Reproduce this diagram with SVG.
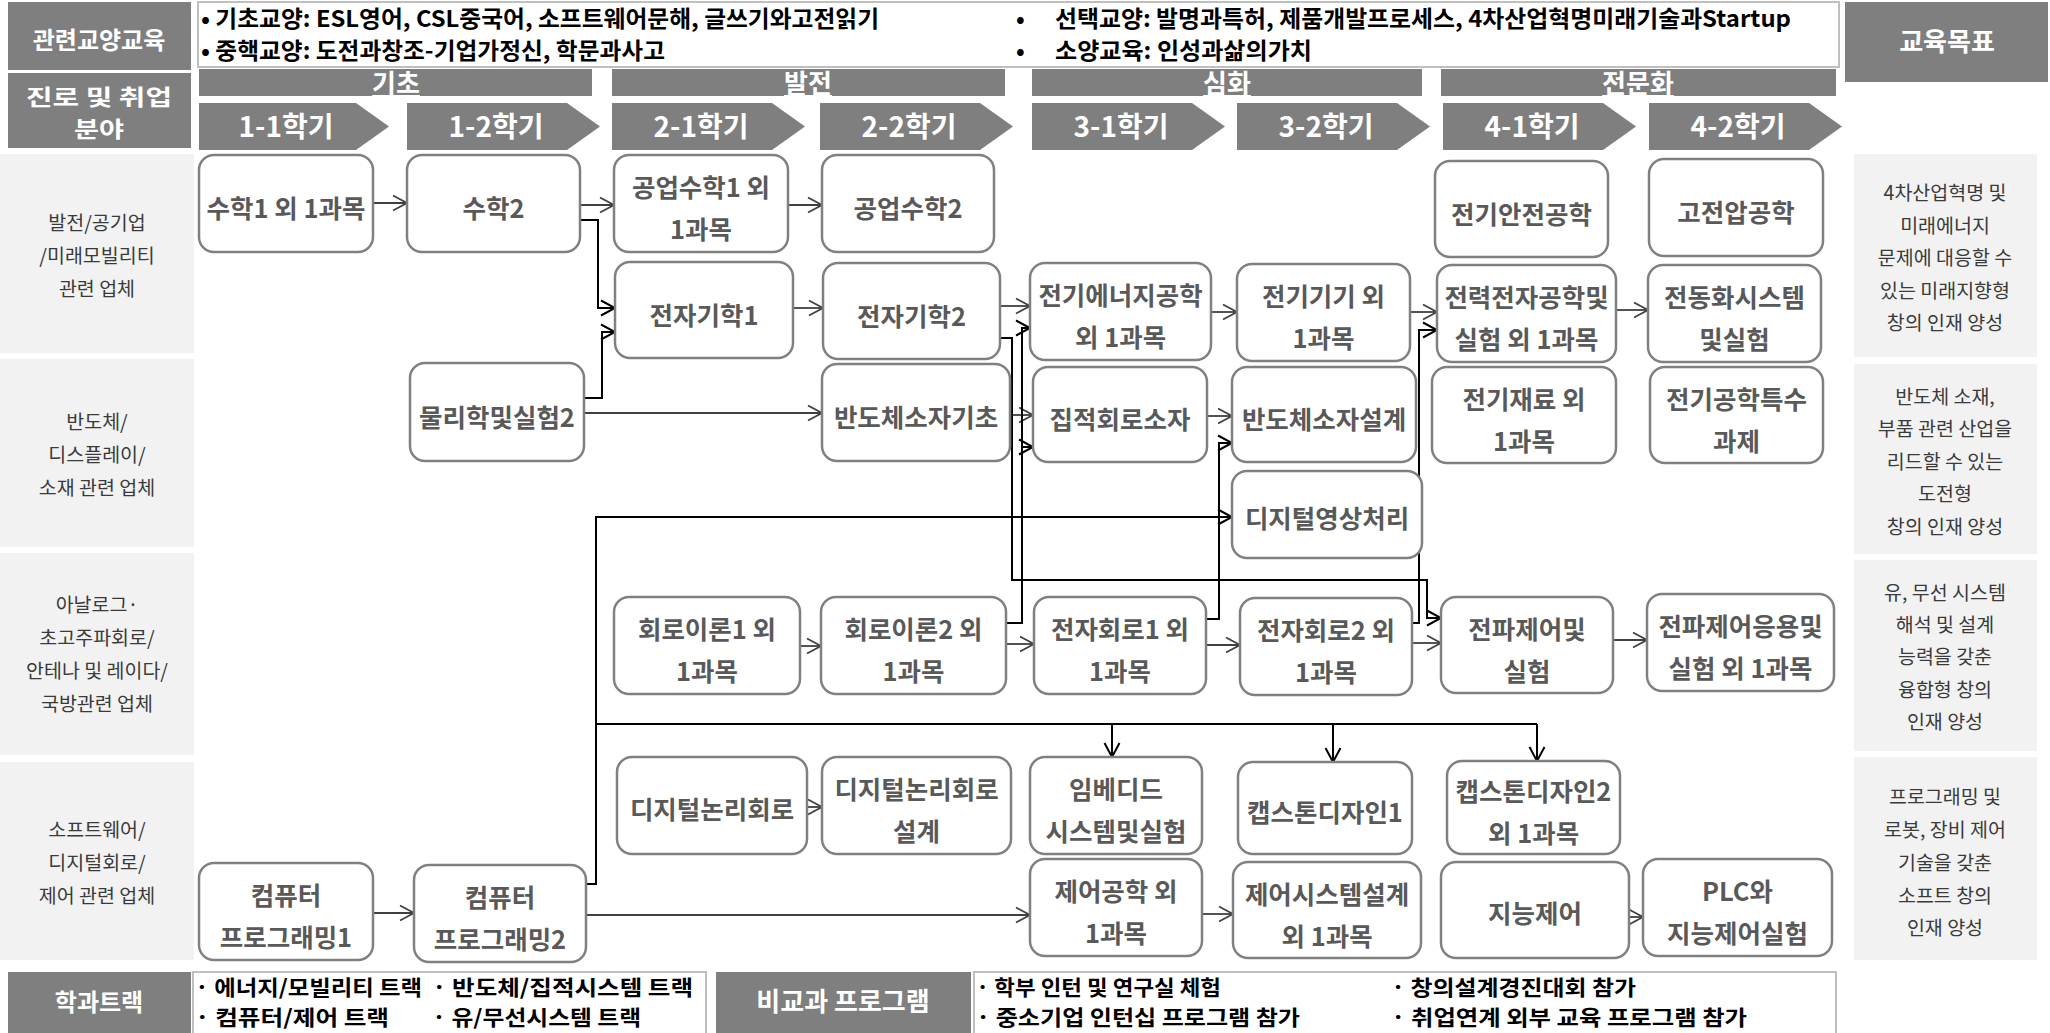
<svg xmlns="http://www.w3.org/2000/svg" width="2050" height="1033" viewBox="0 0 2050 1033">
<defs>
<style>
text{font-family:"Noto Sans CJK KR","Noto Sans",sans-serif;}
.hd{fill:#7f7f7f;}
.hw{fill:#fff;font-weight:700;text-anchor:middle;}
.lab{fill:#f2f2f2;}
.lt{fill:#3a3a3a;font-size:19.5px;text-anchor:middle;}
.tb{fill:#fff;stroke:#bfbfbf;stroke-width:2;}
.tt{fill:#000;font-weight:700;font-size:23px;}
.bt{fill:#000;font-weight:700;font-size:21px;}
.node rect{fill:#fff;stroke:#808080;stroke-width:2.5;}
.node text{fill:#595959;font-weight:700;font-size:25.5px;text-anchor:middle;}
.cg{fill:none;stroke:#404040;stroke-width:1.8;marker-end:url(#ag);}
.ck{fill:none;stroke:#000;stroke-width:2;}
.ka{marker-end:url(#ak);}
</style>
<marker id="ag" markerUnits="userSpaceOnUse" markerWidth="18" markerHeight="20" viewBox="-16 -10 18 20" refX="0" refY="0" orient="auto"><path d="M-14,-7.5 L0,0 L-14,7.5" fill="none" stroke="#404040" stroke-width="1.8"/></marker>
<marker id="ak" markerUnits="userSpaceOnUse" markerWidth="18" markerHeight="20" viewBox="-16 -10 18 20" refX="0" refY="0" orient="auto"><path d="M-14,-7.5 L0,0 L-14,7.5" fill="none" stroke="#000" stroke-width="2"/></marker>
</defs>
<rect width="2050" height="1033" fill="#fff"/>

<!-- header -->
<g id="hdr-gyoyang">
<rect class="hd" x="8" y="2" width="183" height="68"/>
<text class="hw" x="99" y="49" font-size="24">관련교양교육</text>
</g>
<g id="hdr-text">
<rect class="tb" x="198" y="2" width="1641" height="65"/>
<text class="tt" x="201" y="27" textLength="678" lengthAdjust="spacingAndGlyphs">• 기초교양: ESL영어, CSL중국어, 소프트웨어문해, 글쓰기와고전읽기</text>
<text class="tt" x="201" y="59" textLength="464" lengthAdjust="spacingAndGlyphs">• 중핵교양: 도전과창조-기업가정신, 학문과사고</text>
<text class="tt" x="1016" y="27">•</text>
<text class="tt" x="1055" y="27" textLength="736" lengthAdjust="spacingAndGlyphs">선택교양: 발명과특허, 제품개발프로세스, 4차산업혁명미래기술과Startup</text>
<text class="tt" x="1016" y="59">•</text>
<text class="tt" x="1055" y="59" textLength="257" lengthAdjust="spacingAndGlyphs">소양교육: 인성과삶의가치</text>
</g>
<g id="hdr-goal">
<rect class="hd" x="1845" y="2" width="203" height="80"/>
<text class="hw" x="1947" y="51" font-size="26">교육목표</text>
</g>
<g id="hdr-career">
<rect class="hd" x="8" y="73" width="183" height="75"/>
<text class="hw" x="99" y="105" font-size="22" textLength="146" lengthAdjust="spacingAndGlyphs">진로 및 취업</text>
<text class="hw" x="99" y="137" font-size="22" textLength="50" lengthAdjust="spacingAndGlyphs">분야</text>
</g>

<!-- phase bars -->
<g id="phases">
<rect class="hd" x="199" y="69" width="393" height="27"/>
<text class="hw" x="396" y="93" font-size="26" text-decoration="underline">기초</text>
<rect class="hd" x="612" y="69" width="393" height="27"/>
<text class="hw" x="808" y="93" font-size="26" text-decoration="underline">발전</text>
<rect class="hd" x="1032" y="69" width="390" height="27"/>
<text class="hw" x="1227" y="93" font-size="26" text-decoration="underline">심화</text>
<rect class="hd" x="1441" y="69" width="395" height="27"/>
<text class="hw" x="1638" y="93" font-size="26" text-decoration="underline">전문화</text>
</g>

<!-- semesters -->
<g id="semesters">
<path class="hd" d="M199,103 H356 L389,126.5 L356,150 H199 Z"/>
<text class="hw" x="286" y="137" font-size="28">1-1학기</text>
<path class="hd" d="M407,103 H567 L600,126.5 L567,150 H407 Z"/>
<text class="hw" x="496" y="137" font-size="28">1-2학기</text>
<path class="hd" d="M612,103 H772 L805,126.5 L772,150 H612 Z"/>
<text class="hw" x="701" y="137" font-size="28">2-1학기</text>
<path class="hd" d="M820,103 H980 L1013,126.5 L980,150 H820 Z"/>
<text class="hw" x="909" y="137" font-size="28">2-2학기</text>
<path class="hd" d="M1032,103 H1192 L1225,126.5 L1192,150 H1032 Z"/>
<text class="hw" x="1121" y="137" font-size="28">3-1학기</text>
<path class="hd" d="M1237,103 H1397 L1430,126.5 L1397,150 H1237 Z"/>
<text class="hw" x="1326" y="137" font-size="28">3-2학기</text>
<path class="hd" d="M1443,103 H1603 L1636,126.5 L1603,150 H1443 Z"/>
<text class="hw" x="1532" y="137" font-size="28">4-1학기</text>
<path class="hd" d="M1649,103 H1809 L1842,126.5 L1809,150 H1649 Z"/>
<text class="hw" x="1738" y="137" font-size="28">4-2학기</text>
</g>

<!-- career rows -->
<g id="row1">
<rect class="lab" x="0" y="154" width="194" height="199"/>
<text class="lt" x="97" y="230">발전/공기업</text>
<text class="lt" x="97" y="263">/미래모빌리티</text>
<text class="lt" x="97" y="296">관련 업체</text>
</g>
<g id="row2">
<rect class="lab" x="0" y="359" width="194" height="188"/>
<text class="lt" x="97" y="429">반도체/</text>
<text class="lt" x="97" y="462">디스플레이/</text>
<text class="lt" x="97" y="495">소재 관련 업체</text>
</g>
<g id="row3">
<rect class="lab" x="0" y="553" width="194" height="202"/>
<text class="lt" x="97" y="612">아날로그·</text>
<text class="lt" x="97" y="645">초고주파회로/</text>
<text class="lt" x="97" y="678">안테나 및 레이다/</text>
<text class="lt" x="97" y="711">국방관련 업체</text>
</g>
<g id="row4">
<rect class="lab" x="0" y="762" width="194" height="198"/>
<text class="lt" x="97" y="837">소프트웨어/</text>
<text class="lt" x="97" y="870">디지털회로/</text>
<text class="lt" x="97" y="903">제어 관련 업체</text>
</g>

<!-- goals -->
<g id="goal1">
<rect class="lab" x="1854" y="154" width="183" height="203"/>
<text class="lt" x="1945" y="200">4차산업혁명 및</text>
<text class="lt" x="1945" y="233">미래에너지</text>
<text class="lt" x="1945" y="265">문제에 대응할 수</text>
<text class="lt" x="1945" y="298">있는 미래지향형</text>
<text class="lt" x="1945" y="330">창의 인재 양성</text>
</g>
<g id="goal2">
<rect class="lab" x="1854" y="364" width="183" height="190"/>
<text class="lt" x="1945" y="404">반도체 소재,</text>
<text class="lt" x="1945" y="436">부품 관련 산업을</text>
<text class="lt" x="1945" y="469">리드할 수 있는</text>
<text class="lt" x="1945" y="501">도전형</text>
<text class="lt" x="1945" y="534">창의 인재 양성</text>
</g>
<g id="goal3">
<rect class="lab" x="1854" y="560" width="183" height="191"/>
<text class="lt" x="1945" y="600">유, 무선 시스템</text>
<text class="lt" x="1945" y="632">해석 및 설계</text>
<text class="lt" x="1945" y="664">능력을 갖춘</text>
<text class="lt" x="1945" y="697">융합형 창의</text>
<text class="lt" x="1945" y="729">인재 양성</text>
</g>
<g id="goal4">
<rect class="lab" x="1854" y="757" width="183" height="203"/>
<text class="lt" x="1945" y="804">프로그래밍 및</text>
<text class="lt" x="1945" y="837">로봇, 장비 제어</text>
<text class="lt" x="1945" y="870">기술을 갖춘</text>
<text class="lt" x="1945" y="903">소프트 창의</text>
<text class="lt" x="1945" y="935">인재 양성</text>
</g>

<!-- connectors -->
<g id="connectors">
<path class="cg" d="M373,203 H407"/>
<path class="cg" d="M580,205 H614"/>
<path class="cg" d="M788,205 H822"/>
<path class="cg" d="M793,308 H823"/>
<path class="cg" d="M1000,306 H1030"/>
<path class="cg" d="M1211,312 H1237"/>
<path class="cg" d="M1410,312 H1437"/>
<path class="cg" d="M1616,310 H1648"/>
<path class="cg" d="M584,413 H822"/>
<path class="cg" d="M1010,415 H1033"/>
<path class="cg" d="M1207,416 H1232"/>
<path class="cg" d="M800,646 H821"/>
<path class="cg" d="M1006,644 H1034"/>
<path class="cg" d="M1206,645 H1240"/>
<path class="cg" d="M1412,643 H1441"/>
<path class="cg" d="M1613,640 H1647"/>
<path class="cg" d="M806,807 H822"/>
<path class="cg" d="M373,913 H414"/>
<path class="cg" d="M586,915 H1030"/>
<path class="cg" d="M1202,914 H1233"/>
<path class="cg" d="M1628,917 H1643"/>

<path class="ck ka" d="M580,220 H598 V308 H615"/>
<path class="ck ka" d="M584,398 H602 V332 H615"/>
<path class="ck ka" d="M1000,338 H1012 V580 H1427 V618 H1441"/>
<path class="ck ka" d="M1006,623 H1022 V328 H1030"/>
<path class="ck ka" d="M1022,447 H1033"/>
<path class="ck ka" d="M1206,619 H1219 V443 H1232"/>
<path class="ck ka" d="M1412,623 H1419 V330 H1437"/>
<path class="ck ka" d="M586,884 H596 V517 H1232"/>
<path class="ck" d="M596,724 H1537"/>
<path class="ck ka" d="M1112,724 V757"/>
<path class="ck ka" d="M1333,724 V762"/>
<path class="ck ka" d="M1537,724 V761"/>
</g>

<!-- nodes -->
<g id="n-math1" class="node"><rect x="199" y="155" width="174" height="97" rx="15"/><text x="286" y="218">수학1 외 1과목</text></g>
<g id="n-math2" class="node"><rect x="407" y="155" width="173" height="97" rx="15"/><text x="493.5" y="218">수학2</text></g>
<g id="n-engmath1" class="node"><rect x="614" y="155" width="174" height="97" rx="15"/><text x="701" y="197">공업수학1 외</text><text x="701" y="239">1과목</text></g>
<g id="n-engmath2" class="node"><rect x="822" y="155" width="172" height="97" rx="15"/><text x="908" y="218">공업수학2</text></g>
<g id="n-elecsafety" class="node"><rect x="1435" y="161" width="173" height="96" rx="15"/><text x="1521.5" y="223.5">전기안전공학</text></g>
<g id="n-hv" class="node"><rect x="1649" y="159" width="174" height="97" rx="15"/><text x="1736" y="222">고전압공학</text></g>

<g id="n-em1" class="node"><rect x="615" y="262" width="178" height="96" rx="15"/><text x="704" y="324.5">전자기학1</text></g>
<g id="n-em2" class="node"><rect x="823" y="263" width="177" height="96" rx="15"/><text x="911.5" y="325.5">전자기학2</text></g>
<g id="n-energy" class="node"><rect x="1030" y="263" width="181" height="97" rx="15"/><text x="1120.5" y="305">전기에너지공학</text><text x="1120.5" y="347">외 1과목</text></g>
<g id="n-machine" class="node"><rect x="1237" y="264" width="173" height="97" rx="15"/><text x="1323.5" y="306">전기기기 외</text><text x="1323.5" y="348">1과목</text></g>
<g id="n-power" class="node"><rect x="1437" y="265" width="179" height="97" rx="15"/><text x="1526.5" y="307">전력전자공학및</text><text x="1526.5" y="349">실험 외 1과목</text></g>
<g id="n-electrif" class="node"><rect x="1648" y="265" width="173" height="97" rx="15"/><text x="1734.5" y="307">전동화시스템</text><text x="1734.5" y="349">및실험</text></g>

<g id="n-physics" class="node"><rect x="410" y="363" width="174" height="98" rx="15"/><text x="497" y="426.5">물리학및실험2</text></g>
<g id="n-semibasic" class="node"><rect x="822" y="364" width="188" height="97" rx="15"/><text x="916" y="427">반도체소자기초</text></g>
<g id="n-icdev" class="node"><rect x="1033" y="367" width="174" height="95" rx="15"/><text x="1120" y="429">집적회로소자</text></g>
<g id="n-semidesign" class="node"><rect x="1232" y="367" width="184" height="95" rx="15"/><text x="1324" y="429">반도체소자설계</text></g>
<g id="n-material" class="node"><rect x="1432" y="367" width="184" height="96" rx="15"/><text x="1524" y="408.5">전기재료 외</text><text x="1524" y="450.5">1과목</text></g>
<g id="n-special" class="node"><rect x="1650" y="367" width="173" height="96" rx="15"/><text x="1736.5" y="408.5">전기공학특수</text><text x="1736.5" y="450.5">과제</text></g>
<g id="n-dip" class="node"><rect x="1232" y="471" width="190" height="87" rx="15"/><text x="1327" y="528">디지털영상처리</text></g>

<g id="n-circuit1" class="node"><rect x="614" y="597" width="186" height="97" rx="15"/><text x="707" y="639">회로이론1 외</text><text x="707" y="681">1과목</text></g>
<g id="n-circuit2" class="node"><rect x="821" y="597" width="185" height="97" rx="15"/><text x="913.5" y="639">회로이론2 외</text><text x="913.5" y="681">1과목</text></g>
<g id="n-elec1" class="node"><rect x="1034" y="597" width="172" height="97" rx="15"/><text x="1120" y="639">전자회로1 외</text><text x="1120" y="681">1과목</text></g>
<g id="n-elec2" class="node"><rect x="1240" y="598" width="172" height="97" rx="15"/><text x="1326" y="640">전자회로2 외</text><text x="1326" y="682">1과목</text></g>
<g id="n-radio" class="node"><rect x="1441" y="597" width="172" height="96" rx="15"/><text x="1527" y="638.5">전파제어및</text><text x="1527" y="680.5">실험</text></g>
<g id="n-radioapp" class="node"><rect x="1647" y="594" width="187" height="97" rx="15"/><text x="1740.5" y="636">전파제어응용및</text><text x="1740.5" y="678">실험 외 1과목</text></g>

<g id="n-logic" class="node"><rect x="617" y="757" width="190" height="97" rx="15"/><text x="712" y="819">디지털논리회로</text></g>
<g id="n-logicdesign" class="node"><rect x="822" y="757" width="189" height="97" rx="15"/><text x="916.5" y="799">디지털논리회로</text><text x="916.5" y="841">설계</text></g>
<g id="n-embedded" class="node"><rect x="1030" y="757" width="172" height="97" rx="15"/><text x="1116" y="799">임베디드</text><text x="1116" y="841">시스템및실험</text></g>
<g id="n-cap1" class="node"><rect x="1238" y="762" width="174" height="92" rx="15"/><text x="1325" y="822">캡스톤디자인1</text></g>
<g id="n-cap2" class="node"><rect x="1447" y="761" width="173" height="93" rx="15"/><text x="1533.5" y="801">캡스톤디자인2</text><text x="1533.5" y="843">외 1과목</text></g>

<g id="n-prog1" class="node"><rect x="199" y="863" width="174" height="97" rx="15"/><text x="286" y="905">컴퓨터</text><text x="286" y="947">프로그래밍1</text></g>
<g id="n-prog2" class="node"><rect x="414" y="865" width="172" height="97" rx="15"/><text x="500" y="907">컴퓨터</text><text x="500" y="949">프로그래밍2</text></g>
<g id="n-control" class="node"><rect x="1030" y="859" width="172" height="97" rx="15"/><text x="1116" y="901">제어공학 외</text><text x="1116" y="943">1과목</text></g>
<g id="n-ctrldesign" class="node"><rect x="1233" y="862" width="188" height="96" rx="15"/><text x="1327" y="903.5">제어시스템설계</text><text x="1327" y="945.5">외 1과목</text></g>
<g id="n-intel" class="node"><rect x="1441" y="862" width="188" height="96" rx="15"/><text x="1535" y="923">지능제어</text></g>
<g id="n-plc" class="node"><rect x="1643" y="859" width="189" height="97" rx="15"/><text x="1737.5" y="901">PLC와</text><text x="1737.5" y="943">지능제어실험</text></g>

<!-- bottom -->
<g id="ftr-track">
<rect class="hd" x="8" y="972" width="183" height="61"/>
<text class="hw" x="99" y="1011" font-size="24">학과트랙</text>
</g>
<g id="ftr-track-text">
<rect class="tb" x="193" y="972" width="513" height="63"/>
<text class="bt" x="195" y="995" textLength="227" lengthAdjust="spacingAndGlyphs">· 에너지/모빌리티 트랙</text>
<text class="bt" x="432" y="995" textLength="261" lengthAdjust="spacingAndGlyphs">· 반도체/집적시스템 트랙</text>
<text class="bt" x="195" y="1025" textLength="194" lengthAdjust="spacingAndGlyphs">· 컴퓨터/제어 트랙</text>
<text class="bt" x="432" y="1025" textLength="209" lengthAdjust="spacingAndGlyphs">· 유/무선시스템 트랙</text>
</g>
<g id="ftr-prog">
<rect class="hd" x="716" y="972" width="255" height="61"/>
<text class="hw" x="843" y="1011" font-size="26">비교과 프로그램</text>
</g>
<g id="ftr-prog-text">
<rect class="tb" x="974" y="972" width="862" height="63"/>
<text class="bt" x="976" y="995" textLength="245" lengthAdjust="spacingAndGlyphs">· 학부 인턴 및 연구실 체험</text>
<text class="bt" x="1391" y="995" textLength="245" lengthAdjust="spacingAndGlyphs">· 창의설계경진대회 참가</text>
<text class="bt" x="976" y="1025" textLength="324" lengthAdjust="spacingAndGlyphs">· 중소기업 인턴십 프로그램 참가</text>
<text class="bt" x="1391" y="1025" textLength="356" lengthAdjust="spacingAndGlyphs">· 취업연계 외부 교육 프로그램 참가</text>
</g>
</svg>
